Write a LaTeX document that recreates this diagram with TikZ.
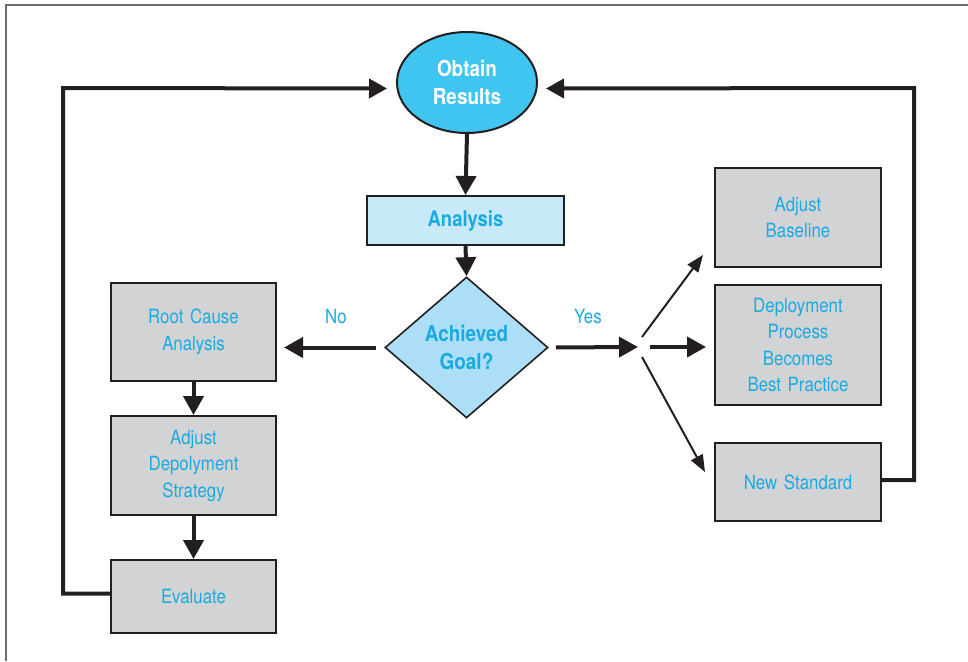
\documentclass[tikz,border=0pt]{standalone}
\usepackage{fontspec}
\setmainfont{TeX Gyre Heros}[FakeStretch=0.86, WordSpace=1.4]
\usetikzlibrary{shapes.geometric,arrows.meta,calc}
\definecolor{ink}{HTML}{231F20}
\definecolor{framegray}{HTML}{6D6E70}
\definecolor{boxgray}{HTML}{D1D3D4}
\definecolor{txtblue}{HTML}{1AAAE2}
\definecolor{ovalfill}{HTML}{40C5F1}
\definecolor{anfill}{HTML}{C8EAF8}
\definecolor{dmfill}{HTML}{ACDFF7}
\begin{document}
\begin{tikzpicture}[x=1pt,y=-1pt,
  box/.style={draw=ink, line width=2pt, fill=boxgray, text=txtblue, align=center,
    minimum width=165pt, inner sep=0pt, font=\fontsize{19.6}{26.5}\selectfont},
  oval/.style={ellipse, draw=ink, line width=2pt, fill=ovalfill, text=white, align=center,
    minimum width=140pt, minimum height=101pt, inner sep=0pt,
    font=\bfseries\fontsize{22}{28}\selectfont},
  anbox/.style={draw=ink, line width=2pt, fill=anfill, text=txtblue,
    minimum width=197pt, minimum height=49pt, inner sep=0pt,
    font=\bfseries\fontsize{21.5}{28}\selectfont},
  decision/.style={diamond, draw=ink, line width=1.6pt, fill=dmfill, text=txtblue, align=center,
    aspect=1.156, minimum width=163pt, minimum height=141pt, inner sep=0pt,
    font=\bfseries\fontsize{22}{28}\selectfont},
  lbl/.style={text=txtblue, font=\fontsize{19.6}{24}\selectfont, inner sep=0pt},
  flow/.style={draw=ink, line width=4pt, -{Triangle[length=19pt,width=20pt]}},
  branch/.style={draw=ink, line width=2pt, -{Triangle[length=17pt,width=13pt]}},
  loopback/.style={draw=ink, line width=4pt, -{Triangle[length=18pt,width=19pt]}}
]
\useasboundingbox (0,0) rectangle (968,661);
\fill[white] (0,0) rectangle (968,661);
% page frame
\draw[framegray, line width=2pt] (6,661) -- (6,5) -- (968,5);

% main column
\node[oval] (obtain) at (467,82.5) {Obtain\\Results};
\node[anbox] (analysis) at (465.5,220.5) {Analysis};
\node[decision] (goal) at (466.5,347.5) {Achieved\\Goal?};

% left column
\node[box, minimum height=98pt] (rca) at (193.5,332) {Root Cause\\Analysis};
\node[box, minimum height=99pt] (ads) at (193.5,465.5) {Adjust\\Depolyment\\Strategy};
\node[box, minimum height=73pt] (ev) at (193.5,596.5) {Evaluate};

% right column
\node[box, minimum width=166pt, minimum height=99pt] (bl) at (798,217.5) {Adjust\\Baseline};
\node[box, minimum width=166pt, minimum height=120pt] (bp) at (798,345) {Deployment\\Process\\Becomes\\Best Practice};
\node[box, minimum width=166pt, minimum height=78pt] (ns) at (798,482) {New Standard};

% branch labels
\node[lbl] (no) at (336,316) {No};
\node[lbl] (yes) at (588,316) {Yes};

% branching points
\coordinate (fan) at (638,347);
\coordinate (fanA) at (642,337);
\coordinate (fanM) at (650,347);
\coordinate (fanC) at (642,357);
\coordinate (tipA) at (703,255);
\coordinate (tipC) at (705,472);
\coordinate (lcorner) at (63,88);
\coordinate (rcorner) at (914,88);

% connectors
\draw[flow] (obtain.south) -- (analysis.north);
\draw[flow] (analysis.south) -- (goal.north);
\draw[flow, shorten <=8pt, shorten >=7pt] (goal.west) -- (goal.west -| rca.east);
\draw[flow, shorten <=7pt] (goal.east) -- (fan);
\draw[flow, shorten >=8pt] (fanM) -- (fanM -| bp.west);
\draw[branch] (fanA) -- (tipA);
\draw[branch] (fanC) -- (tipC);
\draw[flow] (rca.south) -- (ads.north);
\draw[flow] (ads.south) -- (ev.north);
\draw[loopback] ($(ev.west)+(0,-3)$) -| (lcorner) -- ($(obtain.west)+(-9,6)$);
\draw[loopback] ($(ns.east)+(0,-2)$) -| (rcorner) -- ($(obtain.east)+(8,6)$);
\end{tikzpicture}
\end{document}
